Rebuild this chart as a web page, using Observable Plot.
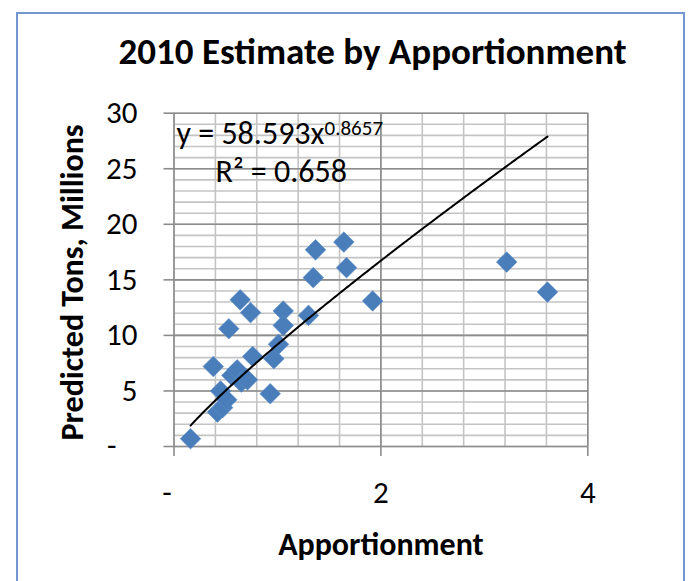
<!DOCTYPE html>
<html>
<head>
<meta charset="utf-8">
<script src="https://cdn.jsdelivr.net/npm/d3@7"></script>
<script src="https://cdn.jsdelivr.net/npm/@observablehq/plot@0.6"></script>
<style>
  html, body { margin: 0; padding: 0; background: #fff; }
  #wrap { position: relative; width: 690px; height: 581px; overflow: hidden; background: #fff; }
  #border { position: absolute; left: 16px; top: 12px; width: 669px; height: 640px; border: 2px solid #7296cf; box-sizing: border-box; }
  #chart { position: absolute; left: 0; top: 0; }
</style>
</head>
<body>
<div id="wrap"><div id="border"></div><div id="chart"></div></div>
<script>
// ---- data ----
const apportionment = [0.16, 0.38, 0.42, 0.47, 0.45, 0.51, 0.53, 0.56, 0.61, 0.64, 0.65, 0.71, 0.74, 0.76, 0.93, 0.965, 1.01, 1.056, 1.056, 1.30, 1.346, 1.368, 1.642, 1.668, 1.92, 3.216, 3.61];
const predictedTons = [0.7, 7.2, 3.1, 3.5, 5.0, 4.2, 10.6, 6.4, 6.9, 13.2, 5.8, 6.0, 12.05, 8.1, 4.75, 7.9, 9.2, 12.2, 10.9, 11.8, 15.2, 17.7, 18.4, 16.1, 13.1, 16.6, 13.9];

const xTicks = [0, 2, 4];
const xTickLabels = ["-\u00a0\u00a0", "2", "4"];
const yTicks = [0, 5, 10, 15, 20, 25, 30];
const yTickLabels = ["-\u00a0\u00a0\u00a0", "5", "10", "15", "20", "25", "30"];
const xMinorStep = 0.4;
const yMinorStep = 1;

const titleText = "2010 Estimate by Apportionment";
const xLabel = "Apportionment";
const yLabel = "Predicted Tons, Millions";
const equationText = "y = 58.593x";
const equationExponent = "0.8657";
const r2Text = "R\u00b2 = 0.658";

// power trendline as drawn (exponent from the label, coefficient)
const trendExponent = 0.8657;
const trendCoefficient = 9.18;

// ---- build ----
const points = apportionment.map((a, i) => ({x: a, y: predictedTons[i]}));
const xMin = d3.min(apportionment), xMax = d3.max(apportionment);
const trend = d3.range(0, 201).map(i => {
  const x = xMin + (xMax - xMin) * i / 200;
  return {x, y: trendCoefficient * Math.pow(x, trendExponent)};
});
const xMinor = d3.range(0, 4 + 1e-9, xMinorStep);
const yMinor = d3.range(0, 30 + 1e-9, yMinorStep);

const font = "Carlito, Lato, sans-serif";
const minorColor = "#c4c4c4";
const majorColor = "#8c8c8c";

const plot = Plot.plot({
  width: 690,
  height: 581,
  marginLeft: 173.5,
  marginRight: 102.7,
  marginTop: 112.7,
  marginBottom: 135,
  style: {fontFamily: font, background: "transparent", overflow: "visible", color: "#000"},
  x: {domain: [0, 4]},
  y: {domain: [0, 30]},
  marks: [
    Plot.ruleX(xMinor, {stroke: minorColor, strokeWidth: 1.6}),
    Plot.ruleY(yMinor, {stroke: minorColor, strokeWidth: 1.6}),
    Plot.ruleX(xTicks, {stroke: majorColor, strokeWidth: 1.6}),
    Plot.ruleY(yTicks, {stroke: majorColor, strokeWidth: 1.6}),
    Plot.axisX({ticks: xTicks, tickFormat: (d) => xTickLabels[xTicks.indexOf(d)], tickSize: 10, tickPadding: 24.5, fontSize: 31, stroke: majorColor, strokeWidth: 1.6, label: null, fill: "#000"}),
    Plot.axisY({ticks: yTicks, tickFormat: (d) => yTickLabels[yTicks.indexOf(d)], tickSize: 10, tickPadding: 26.5, fontSize: 31, stroke: majorColor, strokeWidth: 1.6, label: null, fill: "#000"}),
    Plot.dot(points, {x: "x", y: "y", symbol: "diamond2", r: 9.3, fill: "#4a7ebb", stroke: "#5b8dc8", strokeWidth: 0.6}),
    Plot.line(trend, {x: "x", y: "y", stroke: "#000", strokeWidth: 2}),
    Plot.text([equationText], {frameAnchor: "top-left", textAnchor: "start", lineAnchor: "top", dx: 2.5, dy: 8.5, fontSize: 32, fill: "#000"}),
    Plot.text([equationExponent], {frameAnchor: "top-left", textAnchor: "start", lineAnchor: "top", dx: 150.5, dy: 6.4, fontSize: 21, fill: "#000"}),
    Plot.text([r2Text], {frameAnchor: "top-left", textAnchor: "start", lineAnchor: "top", dx: 41.5, dy: 46.3, fontSize: 32, fill: "#000"}),
    Plot.text([titleText], {frameAnchor: "top", textAnchor: "middle", lineAnchor: "top", dx: -8.4, dy: -75.4, fontSize: 37, fontWeight: "bold", fill: "#000"}),
    Plot.text([xLabel], {frameAnchor: "bottom", textAnchor: "middle", lineAnchor: "top", dy: 85.3, fontSize: 32, fontWeight: "bold", fill: "#000"}),
    Plot.text([yLabel], {frameAnchor: "left", textAnchor: "middle", lineAnchor: "middle", rotate: -90, dx: -101.5, dy: 2.6, fontSize: 32, fontWeight: "bold", fill: "#000"})
  ]
});
document.getElementById("chart").appendChild(plot);
</script>
</body>
</html>
